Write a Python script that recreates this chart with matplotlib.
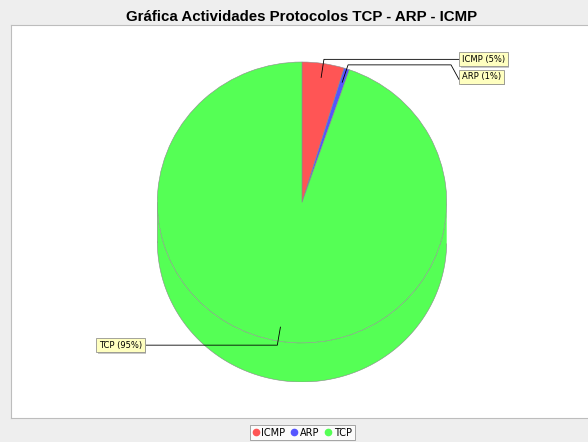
import numpy as np
import matplotlib.pyplot as plt
from matplotlib import patheffects
from matplotlib.lines import Line2D

# data
protocols = ['ICMP', 'ARP', 'TCP']
packets = [47, 6, 947]
colors = ['#FF5555', '#5555FF', '#55FF55']
title = 'Gráfica Actividades Protocolos TCP - ARP - ICMP'

W, H = 588, 442
fig = plt.figure(figsize=(W / 100, H / 100), dpi=100, facecolor='#EEEEEE')

# white plot area with grey border (chart is cropped on the right)
frame = fig.add_axes([11 / W, 1 - 418 / H, 600 / W, 393 / H])
frame.set_xticks([])
frame.set_yticks([])
frame.set_facecolor('white')
for s in frame.spines.values():
    s.set_color('#BDBDBD')

fig.text(301.5 / W, 1 - 20.7 / H, title, ha='center', va='baseline',
         fontsize=10.8, fontweight='bold', family='Liberation Sans')

# 3D-ish pie: top ellipse + side band
depth = 0.278
ax = fig.add_axes([157.3 / W, 1 - 382 / H, 289.4 / W, 320 / H])
wedges, _ = ax.pie(packets, colors=colors, startangle=90, counterclock=False,
                   wedgeprops=dict(edgecolor='#8A8A8A', linewidth=0.4, zorder=3))

for w, c in zip(wedges, colors):
    th = np.linspace(w.theta1, w.theta2, 300)
    th = th[np.sin(np.radians(th)) <= 0]
    if len(th) == 0:
        continue
    x = np.cos(np.radians(th))
    y = np.sin(np.radians(th))
    ax.fill(np.r_[x, x[::-1]], np.r_[y, (y - depth)[::-1]], color=c, lw=0, zorder=2)
    ax.plot(x, y - depth, color='#8A8A8A', lw=0.4, zorder=2)
ax.plot([-1, -1], [0, -depth], color='#8A8A8A', lw=0.4, zorder=2)
ax.plot([1, 1], [0, -depth], color='#8A8A8A', lw=0.4, zorder=2)

ax.set_aspect('auto')
ax.set_xlim(-1, 1)
ax.set_ylim(-1 - depth, 1)
ax.axis('off')

# labels with leader lines
total = sum(packets)
step = 17.3 / 140.5
last = {1: None, -1: None}
items = []
for w, name, v in zip(wedges, protocols, packets):
    m = np.radians((w.theta1 + w.theta2) / 2)
    sgn = 1 if np.cos(m) >= 0 else -1
    items.append((sgn, m, name, v))
items.sort(key=lambda t: -np.sin(t[1]))

for sgn, m, name, v in items:
    ax_, ay = 0.9 * np.cos(m), 0.9 * np.sin(m)
    ex, ey = 1.03 * np.cos(m), 1.03 * np.sin(m)
    ly = ey if last[sgn] is None else min(ey, last[sgn] - step)
    last[sgn] = ly
    ax.plot([ax_, ex, sgn * 1.03, sgn * 1.085], [ay, ey, ey, ly - 0.02 * (ly != ey)],
            color='black', lw=0.6, clip_on=False, zorder=4)
    pct = round(100 * v / total)
    t = ax.annotate(f'{name} ({pct}%)', xy=(sgn * 1.085, ly), xytext=(sgn * 3, 0),
                    textcoords='offset pixels', ha='left' if sgn > 0 else 'right',
                    va='center', fontsize=6, annotation_clip=False, zorder=5,
                    bbox=dict(boxstyle='square,pad=0.3', fc='#FFFFC0', ec='#808080', lw=0.5))
    t.get_bbox_patch().set_path_effects([
        patheffects.withSimplePatchShadow(offset=(1.2, -1.2), shadow_rgbFace='#C8C8C8', alpha=1.0)])

handles = [Line2D([], [], marker='o', ls='', color=c, markersize=4.5) for c in colors]
leg = fig.legend(handles, protocols, loc='center', bbox_to_anchor=(302.5 / W, 1 - 432.5 / H),
                 ncol=3, fontsize=7, frameon=True, fancybox=False, edgecolor='#808080',
                 handlelength=0.6, handletextpad=0.3, columnspacing=0.6,
                 borderpad=0.25, borderaxespad=0)
leg.get_frame().set_linewidth(0.6)
leg.get_frame().set_facecolor('white')

fig.savefig('out.png', dpi=100, facecolor=fig.get_facecolor())
